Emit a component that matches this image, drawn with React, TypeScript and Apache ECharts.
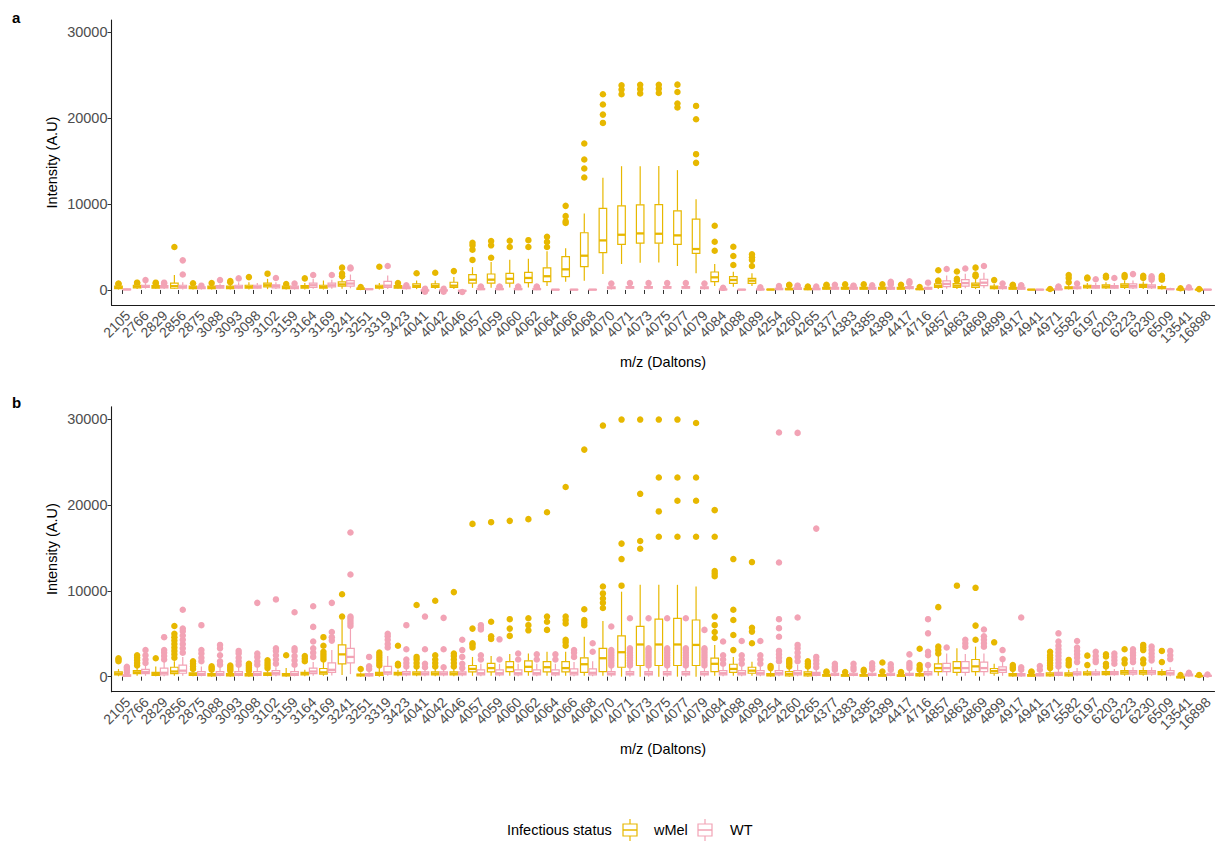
import React, { useEffect, useRef } from "react";
import * as echarts from "echarts";

const categories = ["2105","2766","2829","2856","2875","3088","3093","3098","3102","3159","3164","3169","3241","3251","3319","3423","4041","4042","4046","4057","4059","4060","4062","4064","4066","4068","4070","4071","4073","4075","4077","4079","4084","4088","4089","4254","4260","4265","4377","4383","4385","4389","4417","4716","4857","4863","4869","4899","4917","4941","4971","5582","6197","6203","6223","6230","6509","13541","16898"];

const yTicks = [0, 10000, 20000, 30000];

// Panel a — wMel : [lower whisker, Q1, median, Q3, upper whisker]
const aWmelStats = [[50,150,300,450,600],[100,250,400,550,700],[100,200,350,500,650],[100,200,450,800,1750],[50,150,300,450,600],[50,150,300,450,600],[50,150,300,450,700],[50,200,350,550,900],[100,350,550,800,1300],[50,150,300,450,600],[50,200,350,500,800],[50,200,350,550,1100],[150,450,650,950,1400],[20,80,150,220,300],[50,200,350,550,800],[100,200,350,500,650],[100,300,450,700,1100],[100,300,450,700,1100],[100,300,500,900,1500],[250,800,1190,1800,2660],[250,800,1200,1860,3250],[300,800,1300,1940,3530],[300,850,1400,2050,3640],[450,970,1600,2580,4520],[968,1547,2405,3875,4848],[1085,2713,3992,6667,8915],[1860,4340,5775,9500,13060],[3024,5310,6433,9806,14420],[3175,5466,6590,9922,14420],[3200,5450,6550,9950,14450],[2790,5310,6360,9225,13960],[1940,4265,4770,8257,10580],[465,968,1475,2093,3024],[388,775,1163,1547,2130],[465,775,1085,1360,1940],[0,20,50,80,120],[0,50,100,200,300],[0,50,100,180,250],[50,100,200,300,450],[50,100,200,300,450],[50,100,200,300,450],[50,100,200,300,450],[50,100,200,300,450],[0,50,100,150,250],[100,300,450,700,900],[100,300,500,750,1000],[100,300,550,800,1300],[50,150,300,450,700],[50,100,200,300,450],[0,20,40,60,100],[0,20,40,60,100],[50,150,250,350,600],[100,250,400,550,800],[100,250,400,600,900],[100,300,500,700,1100],[100,300,450,650,1000],[50,150,250,400,600],[0,30,60,100,150],[0,20,40,60,80]];
const aWmelOut = [[700,750],[800,850],[750,850],[5000],[780],[800],[900,1050],[1500],[1900],[700],[1350],[],[1600,1900,2600],[350],[2700],[800],[1950],[2000],[2200],[3500,4700,5200,5500],[3760,5200,5700],[5000,5740],[5000,5800],[5000,5600,6200],[7800,8000,8600,9800],[13100,14150,15200,17060],[19460,20430,21600,22795],[22800,23340,23840],[22900,23400,23900],[22950,23450,23900],[21250,21710,23065,23920],[14810,15820,19890,21440],[4570,5620,7480],[2910,3955,5040],[2800,3500,3800,4150],[],[550,600],[350,400],[550,600],[650],[650],[650],[600],[350],[1000,1100,2300],[1100,1300,2150],[1600,1800,2600],[1150],[550,600],[],[120],[900,1400,1750],[1350,1450],[1450,1650],[1500,1750],[1400,1650],[1200,1350,1500,1650],[200],[100]];

// Panel a — WT
const aWtStats = [[0,30,60,100,150],[150,300,400,550,800],[100,250,350,500,650],[50,200,350,550,900],[50,150,250,350,450],[100,200,350,500,700],[100,200,350,550,900],[100,200,350,550,800],[100,250,450,600,900],[50,150,300,450,600],[150,300,550,800,1300],[150,350,550,800,1200],[200,450,750,1100,1800],[10,50,100,150,200],[100,300,500,1000,1700],[50,150,250,350,450],[-150,-100,-50,0,50],[-150,-100,-50,0,50],[-200,-150,-100,-50,0],[0,50,100,180,250],[0,50,100,180,250],[0,50,100,180,250],[0,50,100,180,250],[0,20,40,60,100],[0,20,40,60,100],[0,20,40,60,100],[50,150,250,350,500],[100,200,300,400,550],[100,200,300,400,550],[100,200,300,400,550],[100,200,300,400,550],[50,150,250,350,500],[0,30,60,100,150],[0,20,40,60,100],[0,30,60,100,150],[0,50,120,200,300],[0,80,150,250,350],[0,50,120,200,300],[50,100,200,300,450],[0,100,200,300,400],[50,100,200,300,450],[0,100,200,300,500],[50,150,250,400,600],[50,100,200,300,400],[150,400,700,1050,1700],[200,450,800,1200,1900],[200,500,850,1250,2000],[50,150,250,400,550],[50,100,200,300,400],[0,20,40,60,100],[0,40,80,120,200],[50,150,250,350,500],[100,200,350,500,800],[100,200,350,500,800],[100,250,450,700,1100],[100,250,400,600,950],[0,50,100,150,250],[0,50,100,150,200],[0,20,40,60,80]];
const aWtOut = [[],[1150],[750,850],[1800,3450],[500],[1150],[1350],[],[1400],[750],[1750],[1750],[2500,2600],[],[2800],[550],[-200,150],[-200,150],[-240],[350,400],[350,400],[350,400],[350,400],[],[],[],[750],[800],[800],[800],[800],[750],[250],[],[300],[450],[450,500],[400],[600],[450,500],[550],[650,800,950],[800,1000],[850],[2450],[2500],[2800],[750],[500,550],[],[350,400],[750],[1250],[1400],[1850],[1200,1400,1600],[],[300],[]];

// Panel b — wMel
const bWmelStats = [[50,200,350,550,900],[100,350,500,700,1000],[50,150,300,500,1200],[100,350,600,1100,1800],[50,150,300,450,700],[0,100,200,350,600],[0,100,200,350,500],[0,100,200,350,500],[50,150,300,450,700],[0,100,200,350,1000],[50,200,350,500,800],[100,300,500,950,1700],[200,1500,2600,3700,6600],[0,100,200,300,500],[0,150,300,500,1000],[50,200,350,500,800],[50,200,350,550,900],[50,200,350,550,900],[50,200,350,550,900],[100,550,900,1300,2300],[100,550,1000,1550,2400],[100,600,1100,1750,2650],[100,600,1150,1850,2700],[100,550,1100,1750,2900],[100,550,1000,1750,2900],[100,500,1450,2200,4650],[100,600,2150,3300,6500],[0,1100,2850,4750,9900],[0,1300,3750,5850,10700],[0,1300,3750,6700,10700],[0,1300,3750,6800,10700],[0,1300,3700,6600,10500],[100,600,1500,2150,3700],[100,500,900,1450,2300],[100,400,700,1100,1750],[0,100,200,350,700],[0,100,300,600,1000],[0,100,300,550,1000],[0,50,150,250,400],[0,50,150,250,400],[0,50,150,250,400],[0,50,150,250,400],[0,50,120,200,350],[0,100,200,350,600],[100,600,1000,1500,2400],[100,500,1000,1750,3300],[100,600,1200,2000,3500],[100,400,650,950,1500],[0,100,200,350,600],[0,50,150,250,400],[0,100,250,450,800],[0,100,250,450,800],[100,200,350,550,800],[100,250,400,600,900],[100,300,500,700,1100],[100,300,500,700,1100],[100,250,400,600,900],[-240,-150,-50,50,150],[0,30,60,100,150]];
const bWmelOut = [[1800,2000,2150],[1300,1600,1900,2200,2500],[2150],[2200,2600,3000,3400,3800,4200,4600,5000,5900],[900,1200,1500,1800],[800,1000,1200],[700,900,1100,1300],[700,900,1100,1300,1500],[1000,1300,1600,1900],[2500],[1800,2100,2400],[2000,2300,2600,2900,3600,4600],[7000,9600],[900],[1300,1600,1900,2200,2500,2800],[1300,1500,3600],[1200,1600,2000,2300,8350],[1200,1600,2000,2500,8850],[1200,1600,2000,2400,2700,9850],[3400,3700,3900,5600,17800],[4400,4700,6400,18000],[4750,5600,6700,18150],[5400,6000,6800,18350],[5450,6400,7000,19150],[3600,4000,4300,6200,6600,7000,22100],[6000,6300,6600,7850,26450],[8000,8600,9100,9700,10500,29250],[10600,13700,15500,29950],[14900,15800,21300,29950],[16300,19250,23200,29950],[16300,20500,23200,29950],[16300,20500,23200,29550],[4500,5200,6000,7000,11700,12000,12300,16300,19400],[3100,4850,6600,7800,13700],[3900,5250,5700,13350],[1000,1250],[1200,1500,1700,1950],[1200,1500,1800],[500,600],[550],[600,800],[600,1650],[450,550],[800,1000,1350,3250],[2700,3100,3500,8100],[10600],[4300,5950,10350],[4000],[900,1100,1350],[500,600],[1000,1300,1600,1900,2200,2500,2900],[1300,1600,1950],[1350,2450],[1200,1500,2350,2600],[1550,2000,3200],[1550,2000,3100,3400,3700],[1700,3000],[200],[200]];

// Panel b — WT
const bWtStats = [[0,50,120,200,350],[100,350,550,850,1300],[50,200,450,1000,1800],[100,400,700,1350,2300],[50,150,300,600,1200],[50,150,300,600,1100],[50,150,300,600,1100],[50,150,300,600,1000],[50,200,400,700,1100],[50,150,300,600,1000],[100,350,600,1000,1700],[150,500,800,1600,3100],[300,1600,2300,3300,5600],[0,100,200,350,600],[100,300,500,1200,2400],[50,200,350,600,1000],[50,200,350,550,900],[50,200,350,550,900],[50,200,350,550,900],[50,200,400,800,1500],[50,200,400,800,1500],[50,200,400,800,1500],[50,200,400,800,1500],[50,200,400,800,1500],[50,200,450,900,1700],[50,200,450,900,1800],[0,200,350,600,1000],[0,200,350,600,1000],[0,200,350,600,1000],[0,200,350,600,1000],[0,200,350,600,1000],[0,200,350,600,1000],[50,200,400,700,1200],[50,200,400,700,1200],[50,200,400,700,1200],[50,200,400,700,1400],[50,200,400,700,1400],[50,150,300,500,900],[50,150,250,400,600],[50,150,250,400,600],[50,150,250,400,600],[50,150,250,400,600],[50,150,250,400,700],[50,200,350,600,1000],[100,600,1000,1550,2700],[100,500,1000,1750,2650],[100,600,1000,1700,2700],[100,500,800,1150,1700],[0,100,200,350,600],[50,100,200,350,500],[50,150,300,500,900],[50,200,350,550,1000],[100,200,350,550,900],[100,250,400,600,900],[100,300,500,700,1100],[100,300,500,700,1100],[50,200,400,700,1100],[0,100,200,300,400],[0,50,100,150,200]];
const bWtOut = [[500,800,1000,1150],[1600,2000,2500,3100],[2000,2400,2800,3100,4600],[2800,3300,3800,4300,4800,5300,5600,7800],[1800,2200,2700,3100,6000],[1400,1800,2500,3300,3700],[1400,1800,2200,2700,3000],[1400,1800,2300,2700,8600],[1500,2000,2500,3000,3300,9000],[1400,1900,2400,3000,3300,7500],[2300,2800,3300,4100,5800,8200],[4200,4600,5200,8600],[5900,6200,6500,6800,7000,11900,16800],[900,1200,2300],[3400,3800,4300,4700,5000],[1200,1600,2000,3200,6000],[1100,1500,3200,7000],[1100,3200,6850],[1000,1500,2300,3100,4300],[2000,2500,5500,5700,6000],[2000,4350],[2000,2700],[2000,2600],[2000,2600],[2300,2800,3100],[2900,3900],[1300,1600,1900,2200,2500,2800,3100,5850],[1300,1600,1900,2200,2500,2800,3100,3300,6800],[1300,1600,1900,2200,2500,2800,3100,3300,6800],[1300,1600,1900,2200,2500,2800,3100,3300,6800],[1300,1600,1900,2200,2500,2800,3100,3300,6800],[1300,1600,1900,2200,2500,2800,3100,3300,5450],[1500,2000,2500,4100],[1500,2000,2500,4150],[1500,2000,2500,4150],[1800,2200,2600,3000,4650,5650,6700,13300,28450],[1800,2300,2800,3300,3700,6900,28400],[1100,1500,1900,2300,17250],[800,1000,1200,1500],[800,1100,1500],[900,1200,1550],[800,1100,1450],[1000,1300,1600,2600],[1350,2500,2900,5050,6700],[3400],[3500,3900,4300],[3500,3900,4300,4700,5500],[2050,3100],[800,1100,6900],[800,1250],[1200,1600,2000,2400,2800,3200,3600,4100,5050],[1700,2200,2600,3000,3400,4150],[1700,2000,2400,2900],[1500,1900,2300,2700],[1700,2100,2500,2800,3200],[1900,2300,2700,3100,3500],[2050,2500,3000],[450],[250]];

const GOLD = "#E7B800";
const PINK = "#F2A3B5";
const FONT = "'Liberation Sans', Arial, Helvetica, sans-serif";
const DODGE = 0.225;
const BOXW = 0.405;
const EXPAND = 0.6;

// layout of the plotting panels (pixels)
const PLOT_LEFT = 111.5;
const PLOT_WIDTH = 1103;
const PLOT_H = 285;
const TOPS = [20, 406.7];

function boxData(stats: number[][], off: number) {
  return stats.map((s, i) => [i + off, s[0], s[1], s[2], s[3], s[4]]);
}
function outData(outs: number[][], off: number) {
  const r: number[][] = [];
  outs.forEach((o, i) => o.forEach((v) => r.push([i + off, v])));
  return r;
}

function boxSeries(stats: number[][], off: number, color: string, gi: number) {
  return {
    type: "custom",
    xAxisIndex: gi,
    yAxisIndex: gi,
    z: 3,
    encode: { x: 0, y: [1, 2, 3, 4, 5] },
    data: boxData(stats, off),
    renderItem: (params: any, api: any) => {
      const x = api.value(0);
      const lo = api.coord([x, api.value(1)]);
      const q1 = api.coord([x, api.value(2)]);
      const md = api.coord([x, api.value(3)]);
      const q3 = api.coord([x, api.value(4)]);
      const hi = api.coord([x, api.value(5)]);
      const w = api.size([BOXW, 0])[0];
      const cx = lo[0];
      return {
        type: "group",
        children: [
          { type: "line", shape: { x1: cx, y1: hi[1], x2: cx, y2: q3[1] }, style: { stroke: color, lineWidth: 1.2 } },
          { type: "line", shape: { x1: cx, y1: q1[1], x2: cx, y2: lo[1] }, style: { stroke: color, lineWidth: 1.2 } },
          { type: "rect", shape: { x: cx - w / 2, y: q3[1], width: w, height: Math.max(q1[1] - q3[1], 0.1) }, style: { fill: "#ffffff", stroke: color, lineWidth: 1.2 } },
          { type: "line", shape: { x1: cx - w / 2, y1: md[1], x2: cx + w / 2, y2: md[1] }, style: { stroke: color, lineWidth: 2.3 } },
        ],
      };
    },
  };
}

function outSeries(outs: number[][], off: number, color: string, gi: number) {
  return {
    type: "scatter",
    xAxisIndex: gi,
    yAxisIndex: gi,
    z: 2,
    symbol: "circle",
    symbolSize: 6.5,
    itemStyle: { color, opacity: 1 },
    data: outData(outs, off),
  };
}

// value x axis used for the marks (with ggplot-like 0.6 expansion)
function xValueAxis(gi: number) {
  return {
    type: "value",
    gridIndex: gi,
    min: -EXPAND,
    max: categories.length - 1 + EXPAND,
    splitLine: { show: false },
    axisLine: { show: true, onZero: false, lineStyle: { color: "#1a1a1a", width: 1.1 } },
    axisTick: { show: false },
    axisLabel: { show: false },
  };
}
// category x axis used only for ticks and labels, in an overlaid grid
function xCatAxis(gi: number) {
  return {
    type: "category",
    gridIndex: gi,
    data: categories,
    boundaryGap: true,
    splitLine: { show: false },
    axisLine: { show: false },
    axisTick: { show: true, alignWithLabel: true, interval: 0, length: 4, lineStyle: { color: "#333333", width: 1 } },
    axisLabel: {
      interval: 0,
      rotate: 45,
      align: "right",
      verticalAlign: "top",
      margin: 3,
      fontSize: 14,
      color: "#4D4D4D",
      fontFamily: FONT,
    },
  };
}
function yAxis(gi: number, visible: boolean) {
  return {
    type: "value",
    gridIndex: gi,
    show: visible,
    min: -1750,
    max: 31450,
    splitLine: { show: false },
    axisLine: { show: true, onZero: false, lineStyle: { color: "#1a1a1a", width: 1.1 } },
    axisTick: { show: true, customValues: yTicks, length: 4, lineStyle: { color: "#333333", width: 1 } },
    axisLabel: { customValues: yTicks, formatter: (v: number) => String(Math.round(v)), margin: 4, fontSize: 14.5, color: "#4D4D4D", fontFamily: FONT },
  };
}

function legendKey(x: number, color: string) {
  return [
    { type: "line", shape: { x1: x + 7, y1: 819, x2: x + 7, y2: 824 }, style: { stroke: color, lineWidth: 1.2 } },
    { type: "line", shape: { x1: x + 7, y1: 836, x2: x + 7, y2: 841 }, style: { stroke: color, lineWidth: 1.2 } },
    { type: "rect", shape: { x, y: 824, width: 14, height: 12 }, style: { fill: "#ffffff", stroke: color, lineWidth: 1.2 } },
    { type: "line", shape: { x1: x, y1: 830, x2: x + 14, y2: 830 }, style: { stroke: color, lineWidth: 1.5 } },
  ];
}

export default function App() {
  const ref = useRef<HTMLDivElement>(null);
  useEffect(() => {
    document.body.style.margin = "0";
    if (!ref.current) return;
    const chart = echarts.init(ref.current, null, { renderer: "svg" });
    const txt = (x: number, y: number, s: string, extra: any = {}) => ({
      type: "text",
      x,
      y,
      style: { text: s, fontSize: 14.5, fontFamily: FONT, fill: "#000000", textAlign: "left", textVerticalAlign: "middle", ...extra },
    });
    const n = categories.length;
    const band = PLOT_WIDTH / (n - 1 + 2 * EXPAND);
    const catLeft = PLOT_LEFT + (EXPAND - 0.5) * band;
    const catWidth = n * band;
    chart.setOption({
      animation: false,
      backgroundColor: "#ffffff",
      grid: [
        { left: PLOT_LEFT, top: TOPS[0], width: PLOT_WIDTH, height: PLOT_H },
        { left: PLOT_LEFT, top: TOPS[1], width: PLOT_WIDTH, height: PLOT_H },
        { left: catLeft, top: TOPS[0], width: catWidth, height: PLOT_H },
        { left: catLeft, top: TOPS[1], width: catWidth, height: PLOT_H },
      ],
      xAxis: [xValueAxis(0), xValueAxis(1), xCatAxis(2), xCatAxis(3)],
      yAxis: [yAxis(0, true), yAxis(1, true), yAxis(2, false), yAxis(3, false)],
      series: [
        outSeries(aWmelOut, -DODGE, GOLD, 0),
        outSeries(aWtOut, DODGE, PINK, 0),
        boxSeries(aWmelStats, -DODGE, GOLD, 0),
        boxSeries(aWtStats, DODGE, PINK, 0),
        outSeries(bWmelOut, -DODGE, GOLD, 1),
        outSeries(bWtOut, DODGE, PINK, 1),
        boxSeries(bWmelStats, -DODGE, GOLD, 1),
        boxSeries(bWtStats, DODGE, PINK, 1),
      ],
      graphic: [
        txt(12, 17, "a", { fontWeight: "bold", fontSize: 15 }),
        txt(12, 402, "b", { fontWeight: "bold", fontSize: 15 }),
        { ...txt(52, TOPS[0] + PLOT_H / 2, "Intensity (A.U)", { textAlign: "center" }), rotation: Math.PI / 2 },
        { ...txt(52, TOPS[1] + PLOT_H / 2, "Intensity (A.U)", { textAlign: "center" }), rotation: Math.PI / 2 },
        txt(PLOT_LEFT + PLOT_WIDTH / 2, 362, "m/z (Daltons)", { textAlign: "center" }),
        txt(PLOT_LEFT + PLOT_WIDTH / 2, 749, "m/z (Daltons)", { textAlign: "center" }),
        txt(507, 830, "Infectious status"),
        ...legendKey(623, GOLD),
        txt(654, 830, "wMel"),
        ...legendKey(698, PINK),
        txt(730, 830, "WT"),
      ],
    });
    return () => chart.dispose();
  }, []);
  return <div ref={ref} style={{ width: 1216, height: 842 }} />;
}
